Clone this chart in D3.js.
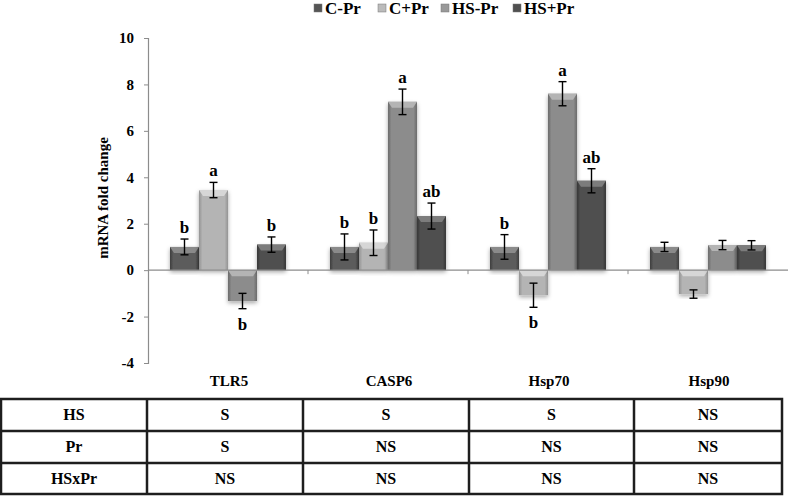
<!DOCTYPE html>
<html><head><meta charset="utf-8">
<script src="https://cdn.jsdelivr.net/npm/d3@7"></script>
<style>
body{margin:0;background:#fff;}
</style></head>
<body><svg id="chart" width="791" height="496"></svg>
<script>
const categories = ["TLR5","CASP6","Hsp70","Hsp90"];
const seriesNames = ["C-Pr","C+Pr","HS-Pr","HS+Pr"];
const cPr      = [1.0, 1.0, 1.0, 1.0];
const cPlusPr  = [3.45, 1.18, -1.08, -1.03];
const hsPr     = [-1.33, 7.25, 7.6, 1.08];
const hsPlusPr = [1.1, 2.33, 3.85, 1.07];
const cPrErr      = [0.34, 0.56, 0.53, 0.2];
const cPlusPrErr  = [0.33, 0.55, 0.52, 0.18];
const hsPrErr     = [0.33, 0.55, 0.52, 0.2];
const hsPlusPrErr = [0.33, 0.56, 0.52, 0.2];
const cPrLetters      = ["b","b","b",""];
const cPlusPrLetters  = ["a","b","b",""];
const hsPrLetters     = ["b","a","a",""];
const hsPlusPrLetters = ["b","ab","ab",""];
const yTicks = [10,8,6,4,2,0,-2,-4];
const tableRows = ["HS","Pr","HSxPr"];
const hsRow   = ["S","S","S","NS"];
const prRow   = ["S","NS","NS","NS"];
const hsxprRow= ["NS","NS","NS","NS"];

const seriesValues = [cPr, cPlusPr, hsPr, hsPlusPr];
const seriesErrors = [cPrErr, cPlusPrErr, hsPrErr, hsPlusPrErr];
const seriesLetters = [cPrLetters, cPlusPrLetters, hsPrLetters, hsPlusPrLetters];
const tableData = [hsRow, prRow, hsxprRow];

const FONT = "'Liberation Serif', 'Times New Roman', Times, 'DejaVu Serif', serif";

const colors = {"C-Pr":["#3e3e3e","#5c5c5c","#8a8a8a"],
                "C+Pr":["#949494","#b4b4b4","#d6d6d6"],
                "HS-Pr":["#6a6a6a","#8c8c8c","#b4b4b4"],
                "HS+Pr":["#363636","#505050","#7c7c7c"]};
const legendColors = {"C-Pr":"#555","C+Pr":"#bbb","HS-Pr":"#999","HS+Pr":"#505050"};

const svg = d3.select("#chart");
const defs = svg.append("defs");
seriesNames.forEach((s,i)=>{
  const g = defs.append("linearGradient").attr("id","g"+i).attr("x1","0").attr("x2","1").attr("y1","0").attr("y2","0");
  g.append("stop").attr("offset","0").attr("stop-color",colors[s][0]);
  g.append("stop").attr("offset","0.12").attr("stop-color",colors[s][1]);
  g.append("stop").attr("offset","0.88").attr("stop-color",colors[s][1]);
  g.append("stop").attr("offset","1").attr("stop-color",colors[s][0]);
});
const f = defs.append("filter").attr("id","shadow").attr("x","-20%").attr("y","-20%").attr("width","140%").attr("height","140%");
f.append("feDropShadow").attr("dx",0).attr("dy",2).attr("stdDeviation",2).attr("flood-color","#000").attr("flood-opacity",0.35);

const y = d3.scaleLinear().domain([-4,10]).range([363,38]);
const x = d3.scaleBand().domain(categories).range([148,788]).paddingInner(0).paddingOuter(0);
const xs = d3.scaleBand().domain(seriesNames).range([22,138]);

// Y axis
const yAxis = d3.axisLeft(y).tickValues(yTicks).tickSize(4).tickFormat(d=>String(d));
const ya = svg.append("g").attr("transform","translate(148,0)").call(yAxis);
ya.select(".domain").attr("stroke","#8c8c8c").attr("stroke-width",1.2);
ya.selectAll(".tick line").attr("stroke","#8c8c8c");
ya.selectAll(".tick text").attr("font-size",15).attr("x",-14);

svg.append("text").attr("transform","translate(108,198) rotate(-90)").attr("text-anchor","middle")
  .attr("font-size",15).text("mRNA fold change");

// bars
const bars = svg.append("g");
seriesNames.forEach((s,si)=>{
  categories.forEach((c,ci)=>{
    const v = seriesValues[si][ci];
    const bx = x(c)+xs(s), bw = xs.bandwidth();
    const top = y(Math.max(0,v)), h = Math.abs(y(v)-y(0));
    bars.append("rect").attr("x",bx).attr("y",top).attr("width",bw).attr("height",h)
      .attr("fill","url(#g"+si+")").attr("filter","url(#shadow)");
    const bh = Math.min(6,h/2);
    bars.append("path").attr("d",`M${bx},${top}L${bx+bw},${top}L${bx+bw-4},${top+bh}L${bx+4},${top+bh}Z`)
      .attr("fill",colors[s][2]);
  });
});

// x axis at zero
svg.append("line").attr("x1",148).attr("x2",788).attr("y1",y(0)).attr("y2",y(0)).attr("stroke","#8c8c8c").attr("stroke-width",1.2);
const bounds = categories.slice(1).map(c=>x(c));
svg.selectAll(".xt").data(bounds).enter().append("line").attr("x1",d=>d).attr("x2",d=>d)
  .attr("y1",y(0)).attr("y2",y(0)+4).attr("stroke","#8c8c8c");

// error bars and letters
const eb = svg.append("g");
seriesNames.forEach((s,si)=>{
  categories.forEach((c,ci)=>{
    const v = seriesValues[si][ci], e = seriesErrors[si][ci];
    const cx = x(c)+xs(s)+xs.bandwidth()/2;
    const y1 = y(v+e), y2 = y(v-e);
    eb.append("line").attr("x1",cx).attr("x2",cx).attr("y1",y1).attr("y2",y2).attr("stroke","#000").attr("stroke-width",1.4);
    [y1,y2].forEach(yy=>eb.append("line").attr("x1",cx-4).attr("x2",cx+4).attr("y1",yy).attr("y2",yy).attr("stroke","#000").attr("stroke-width",1.4));
    const L = seriesLetters[si][ci];
    if(L){
      const ty = v>=0 ? y1-6 : y2+21;
      eb.append("text").attr("x",cx).attr("y",ty).attr("text-anchor","middle").attr("font-size",17).text(L);
    }
  });
});

// category labels
svg.selectAll(".cl").data(categories).enter().append("text").attr("x",d=>x(d)+x.bandwidth()/2+1).attr("y",386)
  .attr("text-anchor","middle").attr("font-size",15).text(d=>d);

// legend
const legX = [314,378,441,513];
seriesNames.forEach((s,i)=>{
  svg.append("rect").attr("x",legX[i]).attr("y",4).attr("width",8).attr("height",8).attr("fill",legendColors[s]).attr("stroke","#777").attr("stroke-width",0.5);
  svg.append("text").attr("x",legX[i]+11).attr("y",14).attr("font-size",17).text(s);
});

// table
const colEdges = [1,147,303,469,634,782];
const rowEdges = [399,431,463,494];
const tg = svg.append("g");
tg.append("rect").attr("x",colEdges[0]).attr("y",rowEdges[0]).attr("width",colEdges[5]-colEdges[0]).attr("height",rowEdges[3]-rowEdges[0])
  .attr("fill","none").attr("stroke","#1e1e1e").attr("stroke-width",2.5);
colEdges.slice(1,5).forEach(cx=>tg.append("line").attr("x1",cx).attr("x2",cx).attr("y1",rowEdges[0]).attr("y2",rowEdges[3]).attr("stroke","#1e1e1e").attr("stroke-width",2.5));
rowEdges.slice(1,3).forEach(ry=>tg.append("line").attr("x1",colEdges[0]).attr("x2",colEdges[5]).attr("y1",ry).attr("y2",ry).attr("stroke","#1e1e1e").attr("stroke-width",2.5));
tableRows.forEach((r,ri)=>{
  const cy = (rowEdges[ri]+rowEdges[ri+1])/2+5;
  tg.append("text").attr("x",(colEdges[0]+colEdges[1])/2).attr("y",cy).attr("text-anchor","middle").attr("font-size",16).text(r);
  tableData[ri].forEach((v,ci)=>{
    tg.append("text").attr("x",(colEdges[ci+1]+colEdges[ci+2])/2).attr("y",cy).attr("text-anchor","middle").attr("font-size",16).text(v);
  });
});

svg.selectAll("text").attr("font-family",FONT).attr("font-weight","bold").attr("fill","#000")
  .style("font-family",FONT).style("font-weight","bold");
</script></body></html>
